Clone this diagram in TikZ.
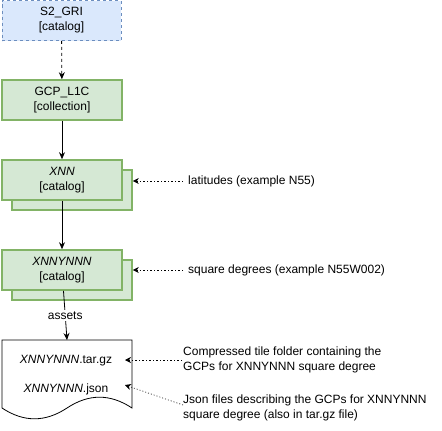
\documentclass[tikz,border=0pt]{standalone}
\usepackage{fontspec}
\setmainfont{Liberation Sans}
\usetikzlibrary{arrows.meta}
\definecolor{gfill}{HTML}{D5E8D4}
\definecolor{gline}{HTML}{82B366}
\definecolor{bfill}{HTML}{DAE8FC}
\definecolor{bline}{HTML}{6C8EBF}
\begin{document}
\begin{tikzpicture}[x=1pt,y=-1pt,font=\fontsize{12}{15}\selectfont,
    bbox/.style={draw=bline,fill=bfill,line width=0.7pt,dash pattern=on 3pt off 3pt,minimum width=119pt,minimum height=40pt,align=center,inner sep=0pt},
    gbox/.style={draw=gline,fill=gfill,line width=1.6pt,minimum width=120pt,minimum height=40pt,align=center,inner sep=0pt},
    arr/.style={-{Stealth[length=7pt,width=6pt]},line width=0.8pt},
    dots/.style={-{Stealth[length=6pt,width=6pt]},line width=0.6pt,dash pattern=on 1.5pt off 2pt},
    note/.style={anchor=west,align=left,inner sep=0pt}]
    \useasboundingbox (0,0) rectangle (442,431);
    % catalog and collection
    \node[bbox] (gri) at (61.5,20.5) {S2\_GRI\\{}[catalog]};
    \node[gbox] (gcp) at (62,100) {GCP\_L1C\\{}[collection]};
    % stacked catalogs
    \node[gbox] (xnnb) at (72,190) {};
    \node[gbox] (xnn) at (62,180) {\itshape XNN\\{}[catalog]};
    \node[gbox] (ynnb) at (72,280) {};
    \node[gbox] (ynn) at (62,270) {\itshape XNNYNNN\\{}[catalog]};
    % assets document
    \draw[line width=0.8pt,fill=white] (2,340) -- (132,340) -- (132,408)
        .. controls (110.3,393.6) and (88.7,393.6) .. (67,408)
        .. controls (45.3,422.4) and (23.7,422.4) .. (2,408) -- cycle;
    \coordinate (doctop) at (67,340);
    \node (tar) at (66,361) {\textit{XNNYNNN}.tar.gz};
    \node (json) at (66,389) {\textit{XNNYNNN}.json};
    \coordinate (tarin) at (125,360);
    \coordinate (jsonin) at (125,385);
    % links
    \draw[arr,dash pattern=on 3pt off 3pt] (gri) -- (gcp);
    \draw[arr] (gcp) -- (xnn);
    \draw[arr] (xnn) -- (ynn);
    \draw[arr] (ynn) -- node[fill=white,inner sep=1.5pt] {assets} (doctop);
    % notes
    \node[note] (lat) at (188,181) {latitudes (example N55)};
    \node[note] (sq) at (188,270) {square degrees (example N55W002)};
    \node[note] (comp) at (183,360) {Compressed tile folder containing the\\GCPs for XNNYNNN square degree};
    \node[note] (jdesc) at (183,408) {Json files describing the GCPs for XNNYNNN\\square degree (also in tar.gz file)};
    \draw[dots] ([xshift=-5pt]lat.west) -- (xnnb.east |- lat.west);
    \draw[dots] ([xshift=-5pt]sq.west) -- (ynnb.east |- sq.west);
    \draw[dots] ([xshift=-1pt]comp.west) -- (tarin);
    \draw[dots,dash pattern=on 1pt off 2pt] ([yshift=3pt]jdesc.west) -- (jsonin);
\end{tikzpicture}
\end{document}
